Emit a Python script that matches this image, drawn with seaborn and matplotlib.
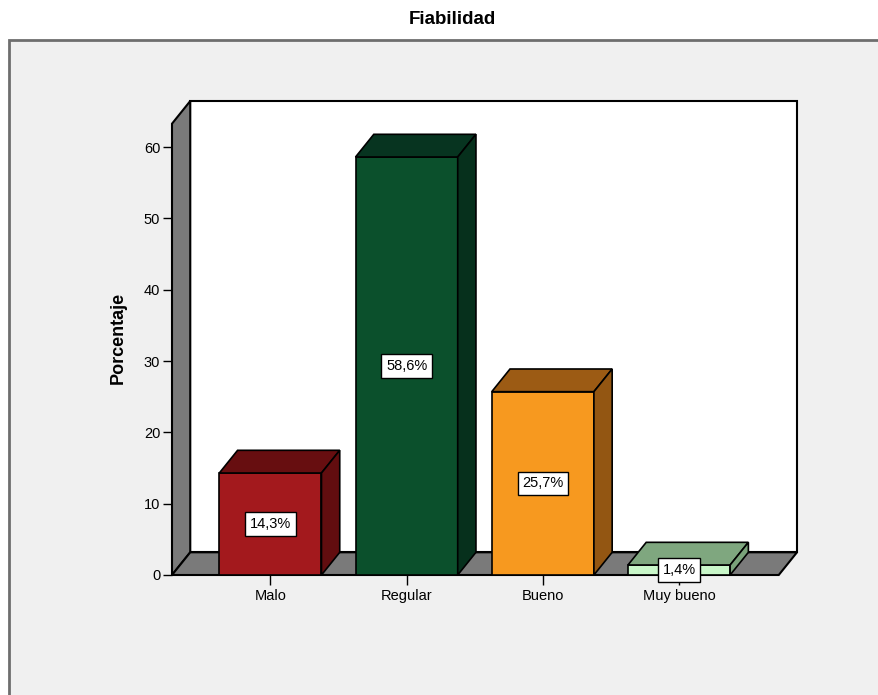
import matplotlib
matplotlib.use("Agg")
import matplotlib.pyplot as plt
from matplotlib.patches import Polygon, Rectangle
import seaborn as sns

# datos
categorias = ["Malo", "Regular", "Bueno", "Muy bueno"]
porcentajes = [14.3, 58.6, 25.7, 1.4]
etiquetas = ["14,3%", "58,6%", "25,7%", "1,4%"]
colores_frente = ["#A3191D", "#0B502C", "#F7991F", "#C9F7C9"]
colores_arriba = ["#670E10", "#073420", "#9C5B14", "#7FA77F"]
colores_lado = ["#620D0F", "#06301C", "#935612", "#7AA27A"]
yticks = [0, 10, 20, 30, 40, 50, 60]

sns.set_style("white")
plt.rcParams["font.family"] = ["Liberation Sans", "DejaVu Sans"]
plt.rcParams.update({"text.color": "black", "axes.labelcolor": "black",
                     "xtick.color": "black", "ytick.color": "black"})

W, H = 879, 695
fig = plt.figure(figsize=(W / 100, H / 100), dpi=100)
fig.patch.set_facecolor("white")

# marco gris exterior
fig.add_artist(Rectangle((9 / W, -0.05), 1.1, 1.05 - 40 / H, transform=fig.transFigure,
                         facecolor="#F0F0F0", edgecolor="#6E6E6E", linewidth=2, zorder=0))

ax = fig.add_axes([172 / W, 1 - 575 / H, (797 - 172) / W, (575 - 101) / H])
ax.set_facecolor("none")

xmin, xmax = -0.7225, 3.866
ymax = 66.45
dx, dy = 0.134, 3.18

# paredes 3D
pared_izq = Polygon([(xmin, 0), (xmin + dx, dy), (xmin + dx, ymax), (xmin, ymax - dy)],
                    closed=True, facecolor="#7A7A7A", edgecolor="black", linewidth=1.5,
                    zorder=0.5, clip_on=False)
fondo = Rectangle((xmin + dx, dy), xmax - xmin - dx, ymax - dy, facecolor="white",
                  edgecolor="black", linewidth=1.5, zorder=0.4, clip_on=False)
suelo = Polygon([(xmin, 0), (xmax - dx, 0), (xmax, dy), (xmin + dx, dy)], closed=True,
                facecolor="#7A7A7A", edgecolor="black", linewidth=1.5, zorder=0.6, clip_on=False)

sns.barplot(x=categorias, y=porcentajes, hue=categorias, palette=colores_frente,
            legend=False, width=0.75, saturation=1, edgecolor="black", linewidth=1.2,
            ax=ax, zorder=2)

barras = sorted([p for c in ax.containers for p in c], key=lambda p: p.get_x())

ax.add_patch(fondo)
ax.add_patch(pared_izq)
ax.add_patch(suelo)

for i, p in enumerate(barras):
    x, w, h = p.get_x(), p.get_width(), p.get_height()
    arriba = Polygon([(x, h), (x + dx, h + dy), (x + w + dx, h + dy), (x + w, h)],
                     closed=True, facecolor=colores_arriba[i], edgecolor="black",
                     linewidth=1.2, zorder=2.1)
    lado = Polygon([(x + w, 0), (x + w + dx, dy), (x + w + dx, h + dy), (x + w, h)],
                   closed=True, facecolor=colores_lado[i], edgecolor="black",
                   linewidth=1.2, zorder=2.1)
    ax.add_patch(arriba)
    ax.add_patch(lado)
    ax.text(x + w / 2, h / 2, etiquetas[i], ha="center", va="center", fontsize=10.5,
            zorder=5, bbox=dict(boxstyle="square,pad=0.32", facecolor="white",
                                edgecolor="black", linewidth=1))

ax.set_xlim(xmin, xmax)
ax.set_ylim(0, ymax)
for s in ax.spines.values():
    s.set_visible(False)
ax.set_yticks(yticks)
ax.tick_params(axis="y", left=True, length=6.5, width=1, direction="out", labelsize=10.5, pad=2)
ax.tick_params(axis="x", bottom=True, length=7, width=1, direction="out", labelsize=10.5, pad=3)
ax.set_xlabel("")
ax.set_ylabel("Porcentaje", fontsize=13, fontweight="bold", labelpad=12)

fig.text(452 / W, 1 - 20 / H, "Fiabilidad", ha="center", va="center",
         fontsize=13.5, fontweight="bold")

fig.savefig("out.png", dpi=100)
